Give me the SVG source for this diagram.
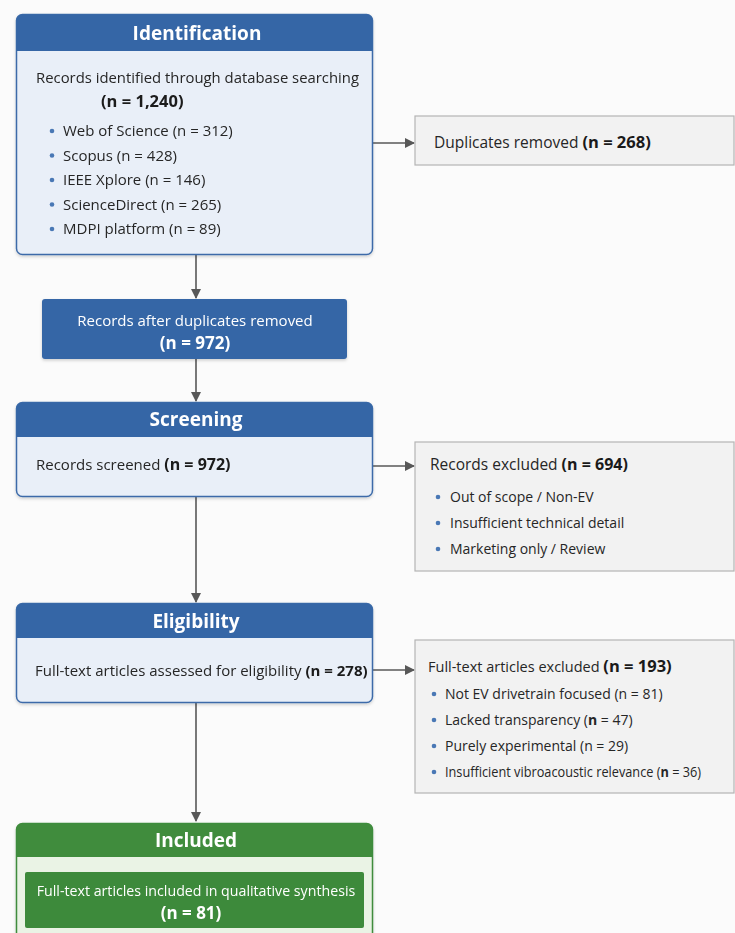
<svg xmlns="http://www.w3.org/2000/svg" width="735" height="933" viewBox="0 0 735 933">
<defs>
<style>
text{font-family:"Open Sans","Noto Sans","DejaVu Sans",sans-serif;font-size:15px;fill:#262626}
.h{font-size:19px;font-weight:bold;fill:#fff;text-anchor:middle}
.w{fill:#fff}
.c{text-anchor:middle}
.b{font-weight:bold}
.bb{fill:#1a1a1a;font-weight:bold}
.s14{font-size:14px}
.box{fill:#e9eff8;stroke:#3d6ba9;stroke-width:1.5}
.hdr{fill:#3566a6}
.gbox{fill:#f2f2f2;stroke:#b4b4b4;stroke-width:1.2}
.dot{fill:#4a78b5}
.conn line{stroke:#585858;stroke-width:1.6;fill:none}
</style>
<marker id="ah" viewBox="0 0 10 10" refX="9" refY="5" markerWidth="10" markerHeight="10" markerUnits="userSpaceOnUse" orient="auto">
<path d="M0,0 L10,5 L0,10 Z" fill="#585858"/>
</marker>
<filter id="sh" x="-5%" y="-5%" width="110%" height="115%">
<feDropShadow dx="0" dy="1.5" stdDeviation="1.5" flood-color="#000" flood-opacity="0.18"/>
</filter>
</defs>
<rect width="735" height="933" fill="#fbfbfb"/>

<g class="conn">
<line x1="196" y1="255" x2="196" y2="298" marker-end="url(#ah)"/>
<line x1="196" y1="359" x2="196" y2="401" marker-end="url(#ah)"/>
<line x1="196" y1="497" x2="196" y2="602" marker-end="url(#ah)"/>
<line x1="196" y1="703" x2="196" y2="821" marker-end="url(#ah)"/>
<line x1="373" y1="143" x2="414" y2="143" marker-end="url(#ah)"/>
<line x1="373" y1="466" x2="414" y2="466" marker-end="url(#ah)"/>
<line x1="373" y1="670" x2="414" y2="670" marker-end="url(#ah)"/>
</g>

<g id="identification" filter="url(#sh)">
<rect class="box" x="16.5" y="14.5" width="356" height="240" rx="6"/>
<path class="hdr" d="M16.5,51 V20.5 a6,6 0 0 1 6,-6 H366.5 a6,6 0 0 1 6,6 V51 Z"/>
<text class="h" x="197" y="40">Identification</text>
<text x="36" y="83" textLength="323" lengthAdjust="spacingAndGlyphs">Records identified through database searching</text>
<text class="bb" x="101" y="107" style="font-size:16.5px">(n = 1,240)</text>
<circle class="dot" cx="52" cy="131" r="2.3"/><text x="63" y="136">Web of Science (n = 312)</text>
<circle class="dot" cx="52" cy="155.5" r="2.3"/><text x="63" y="160.5">Scopus (n = 428)</text>
<circle class="dot" cx="52" cy="180" r="2.3"/><text x="63" y="185">IEEE Xplore (n = 146)</text>
<circle class="dot" cx="52" cy="204.5" r="2.3"/><text x="63" y="209.5">ScienceDirect (n = 265)</text>
<circle class="dot" cx="52" cy="229" r="2.3"/><text x="63" y="234">MDPI platform (n = 89)</text>
</g>

<g id="duplicates">
<rect class="gbox" x="415" y="116" width="319" height="49"/>
<text x="434" y="148" style="font-size:15.5px">Duplicates removed <tspan class="bb" style="font-size:16.5px">(n = 268)</tspan></text>
</g>

<g id="after-duplicates" filter="url(#sh)">
<rect x="42" y="299" width="305" height="60" rx="3" fill="#3566a6"/>
<text class="w c" x="195" y="326">Records after duplicates removed</text>
<text class="w c b" x="195" y="349" style="font-size:17px">(n = 972)</text>
</g>

<g id="screening" filter="url(#sh)">
<rect class="box" x="16.5" y="402.5" width="356" height="94" rx="6"/>
<path class="hdr" d="M16.5,437 V408.5 a6,6 0 0 1 6,-6 H366.5 a6,6 0 0 1 6,6 V437 Z"/>
<text class="h" x="196" y="426">Screening</text>
<text x="36" y="470">Records screened <tspan class="bb" style="font-size:16px">(n = 972)</tspan></text>
</g>

<g id="records-excluded">
<rect class="gbox" x="415" y="442" width="319" height="129"/>
<text x="430" y="470" style="font-size:15.5px">Records excluded <tspan class="bb" style="font-size:16px">(n = 694)</tspan></text>
<circle class="dot" cx="438" cy="497" r="2.3"/><text class="s14" x="450" y="502">Out of scope / Non-EV</text>
<circle class="dot" cx="438" cy="523" r="2.3"/><text class="s14" x="450" y="528">Insufficient technical detail</text>
<circle class="dot" cx="438" cy="549" r="2.3"/><text class="s14" x="450" y="554">Marketing only / Review</text>
</g>

<g id="eligibility" filter="url(#sh)">
<rect class="box" x="16.5" y="603.5" width="356" height="99" rx="6"/>
<path class="hdr" d="M16.5,638 V609.5 a6,6 0 0 1 6,-6 H366.5 a6,6 0 0 1 6,6 V638 Z"/>
<text class="h" x="196" y="628">Eligibility</text>
<text x="35" y="676">Full-text articles assessed for eligibility <tspan class="bb">(n = 278)</tspan></text>
</g>

<g id="fulltext-excluded">
<rect class="gbox" x="415" y="640" width="319" height="153"/>
<text x="428" y="672" style="font-size:14.5px">Full-text articles excluded <tspan class="bb" style="font-size:16.5px">(n = 193)</tspan></text>
<circle class="dot" cx="434" cy="694" r="2.3"/><text class="s14" x="445" y="699">Not EV drivetrain focused (n = 81)</text>
<circle class="dot" cx="434" cy="720" r="2.3"/><text class="s14" x="445" y="725">Lacked transparency (<tspan class="b">n</tspan> = 47)</text>
<circle class="dot" cx="434" cy="746" r="2.3"/><text class="s14" x="445" y="751">Purely experimental (n = 29)</text>
<circle class="dot" cx="434" cy="772" r="2.3"/><text class="s14" transform="translate(445,777) scale(0.91,1)" x="0" y="0">Insufficient vibroacoustic relevance (<tspan class="b">n</tspan> = 36)</text>
</g>

<g id="included" filter="url(#sh)">
<rect x="16.5" y="823.5" width="356" height="130" rx="6" fill="#eaf3e5" stroke="#3f8c3c" stroke-width="1.5"/>
<path d="M16.5,857 V829.5 a6,6 0 0 1 6,-6 H366.5 a6,6 0 0 1 6,6 V857 Z" fill="#3f8c3c"/>
<text class="h" x="196" y="847">Included</text>
<rect x="25" y="872" width="339" height="56" rx="2" fill="#3e8a3a"/>
<text class="w c" x="196" y="896" style="font-size:14.2px">Full-text articles included in qualitative synthesis</text>
<text class="w c b" x="191" y="919" style="font-size:17px">(n = 81)</text>
</g>
</svg>
